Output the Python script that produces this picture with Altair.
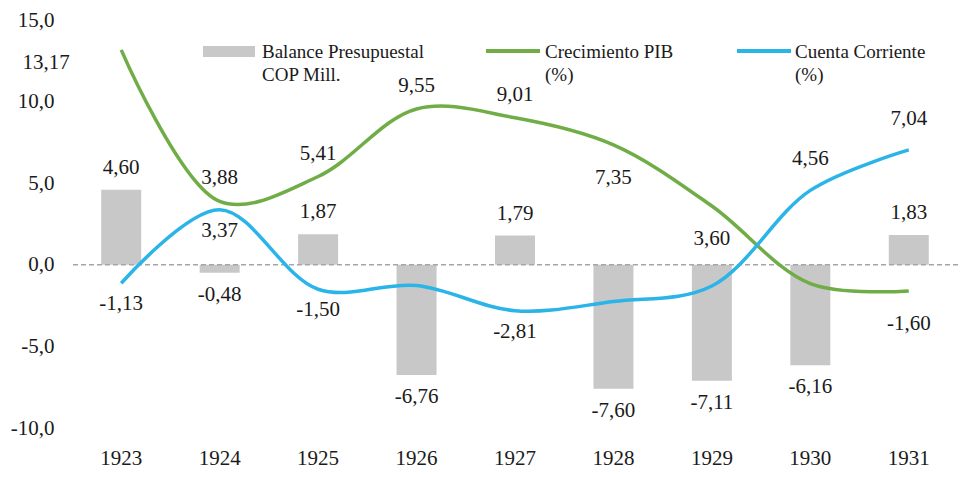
import altair as alt
import pandas as pd

# ---- data ----
years = ["1923", "1924", "1925", "1926", "1927", "1928", "1929", "1930", "1931"]
balance = [4.60, -0.48, 1.87, -6.76, 1.79, -7.60, -7.11, -6.16, 1.83]
pib = [13.17, 3.88, 5.41, 9.55, 9.01, 7.35, 3.60, -1.15, -1.60]
cuenta = [-1.13, 3.37, -1.50, -1.27, -2.81, -2.25, -1.30, 4.56, 7.04]

# label placement (which labels are shown and on which side)
pib_pos = ["left", "above", "above", "above", "above", "below", "below", "none", "below"]
cuenta_pos = ["below", "below", "below", "none", "below", "none", "none", "above", "above"]

FONT = "Liberation Serif"
TXT = "#1a1a1a"
GRAY = "#C8C8C8"
GREEN = "#70AD47"
BLUE = "#2AB4E8"
FS = 21

df_bar = pd.DataFrame({"year": years, "value": balance,
                       "pos": ["above" if v >= 0 else "below" for v in balance]})
df_pib = pd.DataFrame({"year": years, "value": pib, "pos": pib_pos})
df_cc = pd.DataFrame({"year": years, "value": cuenta, "pos": cuenta_pos})

x = alt.X("year:O", title=None,
          scale=alt.Scale(paddingInner=0, paddingOuter=0),
          axis=alt.Axis(labelAngle=0, labelPadding=19, labelFontSize=FS, labelFont=FONT,
                        labelColor=TXT, domain=False, ticks=False, grid=False))
y = alt.Y("value:Q", title=None,
          scale=alt.Scale(domain=[-10, 15], nice=False),
          axis=alt.Axis(values=[-10, -5, 0, 5, 10, 15],
                        labelExpr="(datum.value < 0 ? '-' : '') + replace(format(abs(datum.value), '.1f'), '.', ',')",
                        labelPadding=18, labelFontSize=FS, labelFont=FONT, labelColor=TXT,
                        domain=False, ticks=False, grid=False))

lbl_expr = "(datum.value < 0 ? '-' : '') + replace(format(abs(datum.value), '.2f'), '.', ',')"


def labels(df, offsets):
    out = []
    for pos, (dx, dy) in offsets.items():
        out.append(
            alt.Chart(df)
            .transform_filter(f"datum.pos == '{pos}'")
            .transform_calculate(lbl=lbl_expr)
            .mark_text(dx=dx, dy=dy, font=FONT, fontSize=FS, color=TXT, baseline="middle")
            .encode(x=x, y=y, text="lbl:N")
        )
    return out


bars = alt.Chart(df_bar).mark_bar(size=40, color=GRAY).encode(x=x, y=y, y2=alt.datum(0))
zero = alt.Chart(alt.Data(values=[{"z": 0}])).mark_rule(
    color="#A6A6A6", strokeDash=[5, 3], strokeWidth=1.5).encode(y=alt.datum(0))
line_pib = alt.Chart(df_pib).mark_line(interpolate="catmull-rom", strokeWidth=3.5, color=GREEN).encode(x=x, y=y)
line_cc = alt.Chart(df_cc).mark_line(interpolate="catmull-rom", strokeWidth=3.5, color=BLUE).encode(x=x, y=y)

txt = []
txt += labels(df_bar, {"above": (0, -22), "below": (0, 22)})
txt += labels(df_pib, {"above": (0, -23), "below": (0, 33), "left": (-75, 13)})
txt += labels(df_cc, {"above": (0, -31), "below": (0, 21)})

# ---- legend ----
one = alt.Data(values=[{"a": 1}])
LFS = 19
leg = [
    alt.Chart(one).mark_rect(color=GRAY).encode(x=alt.value(131), x2=alt.value(183), y=alt.value(26), y2=alt.value(37)),
    alt.Chart(one).mark_text(text="Balance Presupuestal", align="left", baseline="middle", font=FONT, fontSize=LFS, color=TXT).encode(x=alt.value(190), y=alt.value(32)),
    alt.Chart(one).mark_text(text="COP Mill.", align="left", baseline="middle", font=FONT, fontSize=LFS, color=TXT).encode(x=alt.value(190), y=alt.value(55)),
    alt.Chart(one).mark_rule(color=GREEN, strokeWidth=4).encode(x=alt.value(414), x2=alt.value(468), y=alt.value(31)),
    alt.Chart(one).mark_text(text="Crecimiento PIB", align="left", baseline="middle", font=FONT, fontSize=LFS, color=TXT).encode(x=alt.value(473), y=alt.value(32)),
    alt.Chart(one).mark_text(text="(%)", align="left", baseline="middle", font=FONT, fontSize=LFS, color=TXT).encode(x=alt.value(473), y=alt.value(55)),
    alt.Chart(one).mark_rule(color=BLUE, strokeWidth=4).encode(x=alt.value(665), x2=alt.value(719), y=alt.value(31)),
    alt.Chart(one).mark_text(text="Cuenta Corriente", align="left", baseline="middle", font=FONT, fontSize=LFS, color=TXT).encode(x=alt.value(723), y=alt.value(32)),
    alt.Chart(one).mark_text(text="(%)", align="left", baseline="middle", font=FONT, fontSize=LFS, color=TXT).encode(x=alt.value(723), y=alt.value(55)),
]

chart = alt.layer(bars, zero, line_pib, line_cc, *txt, *leg).properties(
    width=886, height=408,
    padding={"left": 64, "top": 12, "right": 0, "bottom": 41},
    autosize=alt.AutoSizeParams(type="none"),
    background="white",
).configure_view(stroke=None)

chart.save("out.html", embed_options={"renderer": "svg", "actions": False})
